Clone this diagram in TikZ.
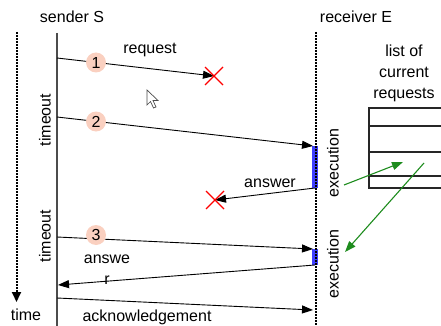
\documentclass[tikz,border=0pt]{standalone}
\usepackage{fontspec}
\setmainfont{Liberation Sans}
\usetikzlibrary{arrows.meta,calc}
\definecolor{numfill}{RGB}{250,208,192}
\definecolor{execblue}{RGB}{64,64,255}
\definecolor{hintgreen}{RGB}{30,140,30}
\tikzset{
  msg/.style={draw, line width=0.9pt, -{Triangle[length=11pt,width=8pt]}},
  num/.style={circle, fill=numfill, minimum size=20pt, inner sep=0pt},
  lost/.style={red, line width=1.2pt},
  hint/.style={draw=hintgreen, line width=1.1pt, -{Triangle[length=11pt,width=8pt]}, hintgreen},
  axis/.style={dash pattern=on 2pt off 1pt, line width=2pt}
}
\begin{document}
\begin{tikzpicture}[x=1pt, y=-1pt, font=\fontsize{16}{21}\selectfont]
\clip (0,0) rectangle (441,326);

\coordinate (t0) at (16.5,32);
\coordinate (t1) at (16.5,302);
\coordinate (s0) at (57,33);
\coordinate (s1) at (57,330);
\coordinate (e0) at (315.5,32);
\coordinate (e1) at (315.5,330);

\draw[axis, -{Triangle[length=10pt,width=9pt]}] (t0) -- (t1);
\node (time) at (26,315) {time};
\draw[line width=2pt, black!70] (s0) -- (s1);
\node (sender) at (72,17) {sender S};
\fill[execblue] (311.5,146) rectangle (317.5,188);
\fill[execblue] (311.5,249) rectangle (317.5,265);
\draw[axis] (e0) -- (e1);
\node (receiver) at (356,17) {receiver E};

\node[rotate=90] (to1) at (45,120) {timeout};
\node[rotate=90] (to2) at (45,236) {timeout};
\node[rotate=90] (ex1) at (333,163) {execution};
\node[rotate=90] (ex2) at (333,264) {execution};

% lost request and lost answer
\coordinate (r1a) at (57,58);
\coordinate (x1) at (214,76);
\draw[msg] (r1a) -- (x1);
\draw[lost] ($(x1)+(-9,-9)$) -- ++(18,18) ($(x1)+(-9,9)$) -- ++(18,-18);
\node (req) at (150,50) {request};
\node[num] (n1) at (96,62.5) {1};

\coordinate (r2a) at (57,117);
\coordinate (r2b) at (313,146);
\draw[msg] (r2a) -- (r2b);
\node[num] (n2) at (96,121.5) {2};

\coordinate (a1a) at (315,188);
\coordinate (x2) at (215,200);
\draw[msg] (a1a) -- (x2);
\draw[lost] ($(x2)+(-9,-9)$) -- ++(18,18) ($(x2)+(-9,9)$) -- ++(18,-18);
\node (ans1) at (270,183) {answer};

\coordinate (r3a) at (57,237);
\coordinate (r3b) at (313,249);
\draw[msg] (r3a) -- (r3b);
\node[num] (n3) at (96,235) {3};

\coordinate (a2a) at (315,265);
\coordinate (a2b) at (58,285);
\draw[msg] (a2a) -- (a2b);
\node[align=center] (ans2) at (107,270) {answe\\r};

\coordinate (ka) at (57,298);
\coordinate (kb) at (313,310);
\draw[msg] (ka) -- (kb);
\node (ack) at (147,317) {acknowledgement};

\node[align=center] (list) at (404,73) {list of\\current\\requests};
\draw[line width=1.4pt, black!85] (369,108) rectangle (460,188);
\foreach \y in {126,152,176}
  \draw[line width=1.4pt, black!85] (369,\y) -- (460,\y);

\coordinate (g1a) at (344,185);
\coordinate (g1b) at (403,162);
\coordinate (g2a) at (424,163);
\coordinate (g2b) at (345,252);
\draw[hint] (g1a) -- (g1b);
\draw[hint] (g2a) -- (g2b);

\draw[black!70, fill=white, line width=0.7pt] (147,90) -- (147,105) -- (150.5,101.5) -- (153.5,108) -- (156,107) -- (153,100.5) -- (158,100.5) -- cycle;
\end{tikzpicture}
\end{document}
